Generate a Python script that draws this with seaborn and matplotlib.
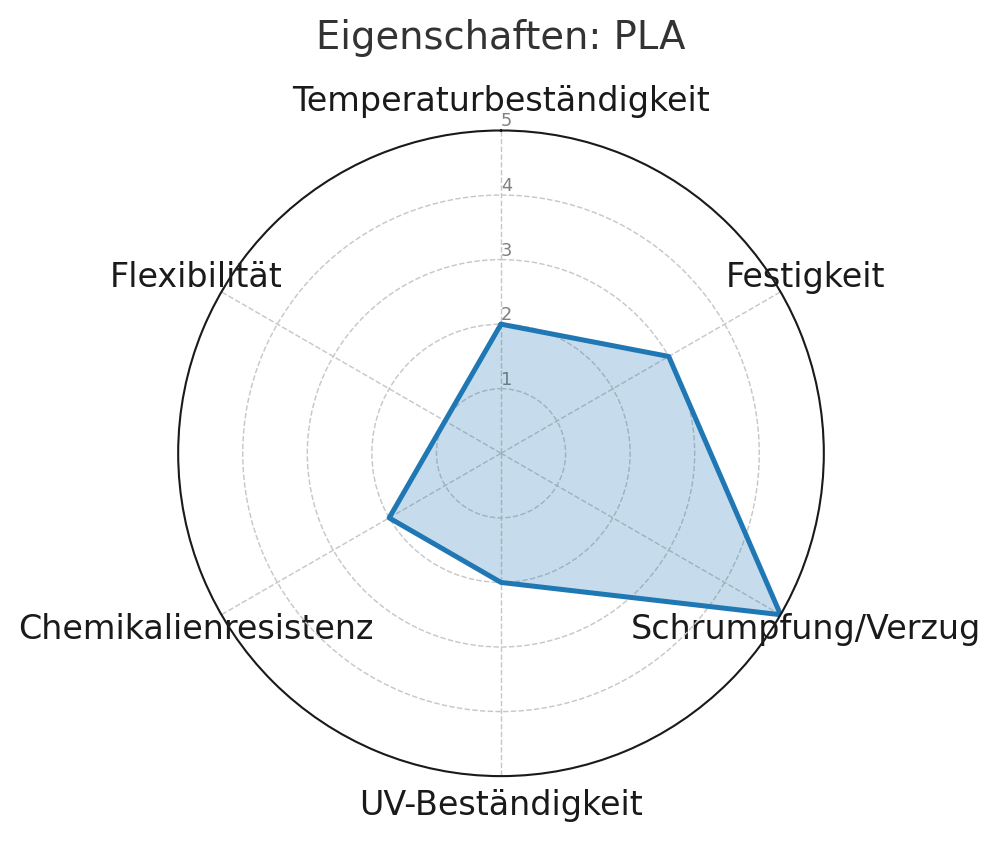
import numpy as np
import matplotlib
matplotlib.use("Agg")
import matplotlib.pyplot as plt
import seaborn as sns

# data
categories = ["Temperaturbeständigkeit", "Festigkeit", "Schrumpfung/Verzug",
              "UV-Beständigkeit", "Chemikalienresistenz", "Flexibilität"]
values = [2, 3, 5, 2, 2, 1]
rticks = [1, 2, 3, 4, 5]
material = "PLA"

sns.set_theme(style="whitegrid")
plt.rcParams['font.family'] = ['DejaVu Sans']

n = len(categories)
angles = np.linspace(0, 2 * np.pi, n, endpoint=False).tolist()
angles_closed = angles + angles[:1]
vals_closed = values + values[:1]

fig = plt.figure(figsize=(1001 / 150, 841 / 150), dpi=150)
ax = fig.add_axes([0.178, 0.077, 0.645, 0.768], polar=True)
ax.set_theta_offset(np.pi / 2)
ax.set_theta_direction(-1)

sns.lineplot(x=angles_closed, y=vals_closed, ax=ax, color="#1f77b4",
             linewidth=2.4, sort=False, estimator=None)
ax.fill(angles_closed, vals_closed, color="#1f77b4", alpha=0.25)

ax.set_ylim(0, 5)
ax.set_yticks(rticks)
ax.set_yticklabels([str(t) for t in rticks], color="grey", fontsize=8.5)
ax.set_rlabel_position(0)

ax.set_xticks(angles)
ax.set_xticklabels(categories, fontsize=16, color="#1a1a1a")
ax.tick_params(axis="x", pad=1)

ax.grid(True, color="#c8c8c8", linestyle="--", linewidth=0.7)
ax.spines["polar"].set_color("#1a1a1a")
ax.spines["polar"].set_linewidth(1.0)

fig.suptitle(f"Eigenschaften: {material}", fontsize=18.5, color="#333333",
             y=0.955, va="center")

fig.savefig("out.png", dpi=150)
